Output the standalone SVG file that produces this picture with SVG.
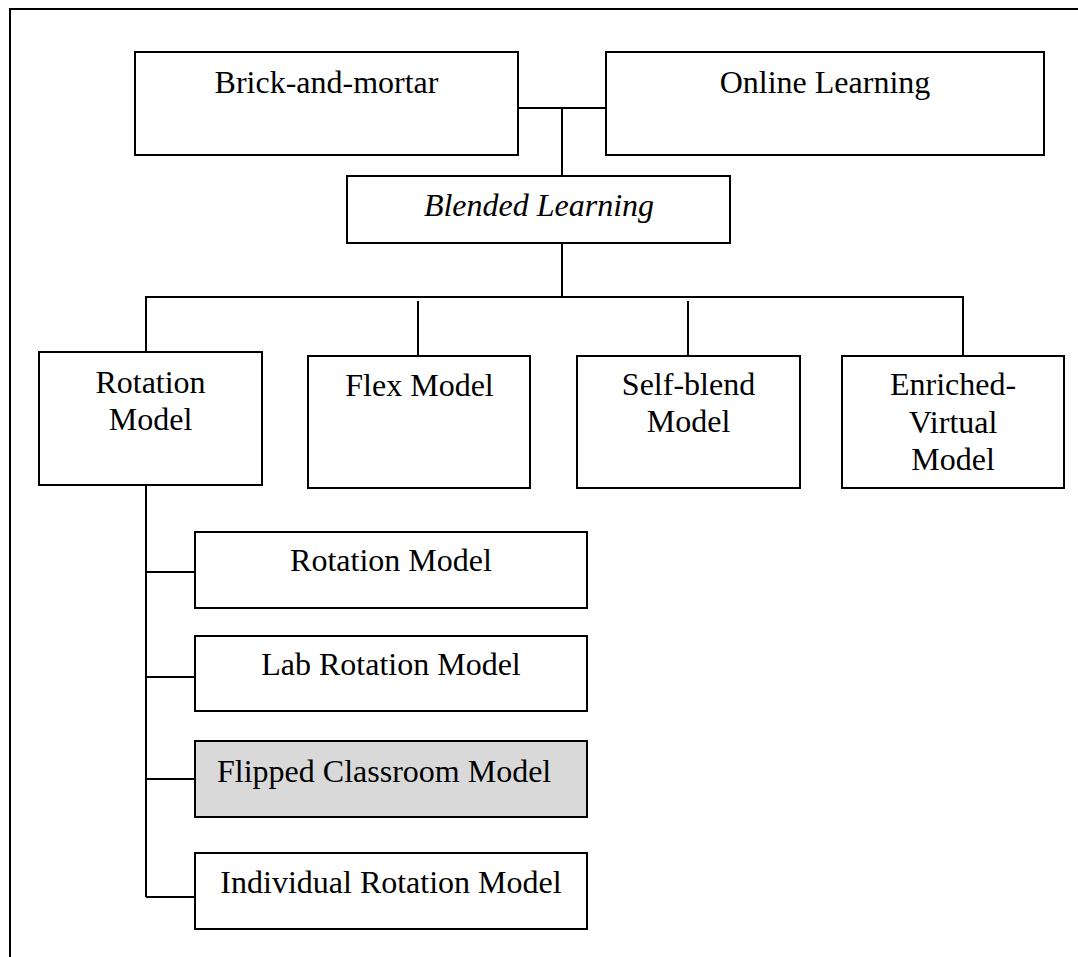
<svg xmlns="http://www.w3.org/2000/svg" width="1078" height="957" viewBox="0 0 1078 957">
<style>
.box{fill:#fff;stroke:#000;stroke-width:2}
.gray{fill:#d9d9d9;stroke:#000;stroke-width:2}
.t{font-family:"Liberation Serif","Times New Roman",serif;font-size:32px;fill:#000;text-anchor:middle}
.i{font-style:italic}
.ln{stroke:#000;stroke-width:2;fill:none}
</style>
<rect width="1078" height="957" fill="#fff"/>
<path id="frame" class="ln" d="M10,960 V9 H1080"/>
<g id="connectors">
<path class="ln" d="M518,108 H606 M562,108 V176"/>
<path class="ln" d="M562,243 V297 M146,352 V297 H963 V356"/>
<path class="ln" d="M418,301 V356 M688,301 V356"/>
<path class="ln" d="M146,485 V897"/>
<path class="ln" d="M146,572 H195 M146,677 H195 M146,779 H195 M146,897 H195"/>
</g>
<g id="brick"><rect class="box" x="135" y="52" width="383" height="103"/><text class="t" x="326.5" y="93">Brick-and-mortar</text></g>
<g id="online"><rect class="box" x="606" y="52" width="438" height="103"/><text class="t" x="825" y="93">Online Learning</text></g>
<g id="blended"><rect class="box" x="347" y="176" width="383" height="67"/><text class="t i" x="539" y="216">Blended Learning</text></g>
<g id="rotation"><rect class="box" x="39" y="352" width="223" height="133"/><text class="t" x="150.5" y="393">Rotation</text><text class="t" x="150.5" y="430">Model</text></g>
<g id="flex"><rect class="box" x="308" y="356" width="222" height="132"/><text class="t" x="419.5" y="396">Flex Model</text></g>
<g id="selfblend"><rect class="box" x="577" y="356" width="223" height="132"/><text class="t" x="688.5" y="395">Self-blend</text><text class="t" x="688.5" y="432">Model</text></g>
<g id="enriched"><rect class="box" x="842" y="356" width="222" height="132"/><text class="t" x="953" y="395">Enriched-</text><text class="t" x="953" y="432.5">Virtual</text><text class="t" x="953" y="469.5">Model</text></g>
<g id="sub1"><rect class="box" x="195" y="532" width="392" height="76"/><text class="t" x="391" y="571">Rotation Model</text></g>
<g id="sub2"><rect class="box" x="195" y="636" width="392" height="75"/><text class="t" x="391" y="675">Lab Rotation Model</text></g>
<g id="sub3"><rect class="gray" x="195" y="741" width="392" height="76"/><text class="t" x="217" y="782" style="text-anchor:start">Flipped Classroom Model</text></g>
<g id="sub4"><rect class="box" x="195" y="853" width="392" height="76"/><text class="t" x="391" y="893">Individual Rotation Model</text></g>
</svg>
